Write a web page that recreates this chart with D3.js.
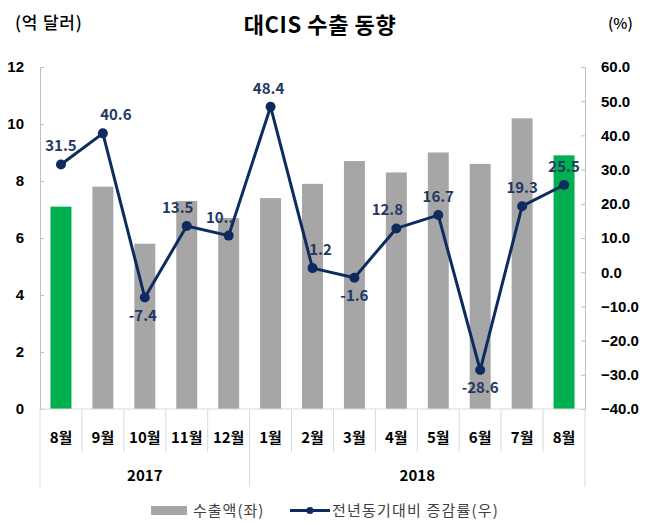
<!DOCTYPE html>
<html><head><meta charset="utf-8">
<script src="https://cdn.jsdelivr.net/npm/d3@7"></script>
<style>
html,body{margin:0;padding:0;background:#fff;}
svg{display:block;font-family:"Noto Sans CJK KR","Noto Sans",sans-serif;}
</style></head>
<body><svg id="c" width="646" height="526"></svg>
<script>
const months = ["8월","9월","10월","11월","12월","1월","2월","3월","4월","5월","6월","7월","8월"];
const years = [{label:"2017", from:0, to:4},{label:"2018", from:5, to:12}];
const exportsVal = [7.1,7.8,5.8,7.3,6.7,7.4,7.9,8.7,8.3,9.0,8.6,10.2,8.9];
const growth = [31.5,40.6,-7.4,13.5,10.7,48.4,1.2,-1.6,12.8,16.7,-28.6,19.3,25.5];
const growthLabels = ["31.5","40.6","-7.4","13.5","10..","48.4","1.2","-1.6","12.8","16.7","-28.6","19.3","25.5"];
const highlight = [true,false,false,false,false,false,false,false,false,false,false,false,true];
const leftTicks = [0,2,4,6,8,10,12];
const rightTicks = [-40,-30,-20,-10,0,10,20,30,40,50,60];
const labelDx = [0,13,-2,-9,-9,-2,8,0,-9,0,0,0,0];

const svg = d3.select("#c");
const L = 40, R = 585, T = 67, B = 409;
const x = d3.scaleBand().domain(d3.range(months.length)).range([L,R]).paddingInner(0.5).paddingOuter(0.25);
const yL = d3.scaleLinear().domain([0,12]).range([B,T]);
const yR = d3.scaleLinear().domain([-40,60]).range([B,T]);
const step = x.step();
const navy = "#0e2a5e";
const axisCol = "#bfbfbf";

// titles
svg.append("text").attr("x",320).attr("y",33).attr("text-anchor","middle")
  .attr("font-size",22).attr("font-weight","bold").attr("letter-spacing",0.6).attr("fill","#000").text("대CIS 수출 동향");
svg.append("text").attr("x",15).attr("y",29).attr("font-size",17).attr("font-weight",500).attr("letter-spacing",0.8).attr("fill","#000").text("(억 달러)");
svg.append("text").attr("x",608).attr("y",29).attr("font-size",15).attr("font-weight",500).attr("fill","#000").text("(%)");

// bars
svg.append("g").selectAll("rect").data(exportsVal).join("rect")
  .attr("x",(d,i)=>x(i)).attr("width",x.bandwidth())
  .attr("y",d=>yL(d)).attr("height",d=>B-yL(d))
  .attr("fill",(d,i)=>highlight[i]?"#00b050":"#a6a6a6");

// left axis
const gL = svg.append("g").attr("transform",`translate(${L},0)`)
  .call(d3.axisLeft(yL).tickValues(leftTicks).tickSize(-4).tickPadding(16).tickFormat(d3.format("d")));
gL.select(".domain").attr("stroke",axisCol);
gL.selectAll(".tick line").attr("stroke",axisCol);
gL.selectAll("text").attr("font-size",15).attr("font-weight","bold").attr("fill","#000").attr("font-family","inherit");

// right axis
const gR = svg.append("g").attr("transform",`translate(${R},0)`)
  .call(d3.axisRight(yR).tickValues(rightTicks).tickSize(-4).tickPadding(16).tickFormat(d3.format(".1f")));
gR.select(".domain").attr("stroke",axisCol);
gR.selectAll(".tick line").attr("stroke",axisCol);
gR.selectAll("text").attr("font-size",15).attr("font-weight","bold").attr("fill","#000").attr("font-family","inherit");

// bottom axis baseline
svg.append("line").attr("x1",L).attr("x2",R).attr("y1",B).attr("y2",B).attr("stroke","#d9d9d9");

// category separators
const bounds = d3.range(months.length+1);
const yearBounds = new Set([0].concat(years.map(y=>y.to+1)));
svg.append("g").selectAll("line").data(bounds).join("line")
  .attr("x1",i=>L+i*step).attr("x2",i=>L+i*step)
  .attr("y1",B).attr("y2",i=>yearBounds.has(i)?487:452)
  .attr("stroke","#d9d9d9");

// month labels
svg.append("g").selectAll("text").data(months).join("text")
  .attr("x",(d,i)=>x(i)+x.bandwidth()/2).attr("y",443)
  .attr("text-anchor","middle").attr("font-size",15).attr("font-weight","bold").attr("fill","#000").text(d=>d);

// year labels
svg.append("g").selectAll("text").data(years).join("text")
  .attr("x",d=>(L+d.from*step + L+(d.to+1)*step)/2).attr("y",481)
  .attr("text-anchor","middle").attr("font-size",15).attr("font-weight","bold").attr("fill","#000").text(d=>d.label);

// line
const line = d3.line().x((d,i)=>x(i)+x.bandwidth()/2).y(d=>yR(d));
svg.append("path").datum(growth).attr("d",line).attr("fill","none").attr("stroke",navy).attr("stroke-width",3).attr("stroke-linejoin","round");
svg.append("g").selectAll("circle").data(growth).join("circle")
  .attr("cx",(d,i)=>x(i)+x.bandwidth()/2).attr("cy",d=>yR(d)).attr("r",5).attr("fill",navy);

// data labels
svg.append("g").selectAll("text").data(growth).join("text")
  .attr("x",(d,i)=>x(i)+x.bandwidth()/2+labelDx[i])
  .attr("y",d=>d<0? yR(d)+23 : yR(d)-13)
  .attr("text-anchor","middle").attr("font-size",15).attr("font-weight","bold").attr("fill","#1f3864")
  .text((d,i)=>growthLabels[i]);

// legend
const lg = svg.append("g");
lg.append("rect").attr("x",151).attr("y",506).attr("width",36).attr("height",9).attr("fill","#a6a6a6");
lg.append("text").attr("x",193).attr("y",516).attr("font-size",15).attr("letter-spacing",1).attr("fill","#404040").text("수출액(좌)");
lg.append("line").attr("x1",290).attr("x2",330).attr("y1",510.5).attr("y2",510.5).attr("stroke",navy).attr("stroke-width",3);
lg.append("circle").attr("cx",310).attr("cy",510.5).attr("r",3.5).attr("fill",navy);
lg.append("text").attr("x",332).attr("y",516).attr("font-size",15).attr("letter-spacing",1.2).attr("fill","#404040").text("전년동기대비 증감률(우)");
</script></body></html>
